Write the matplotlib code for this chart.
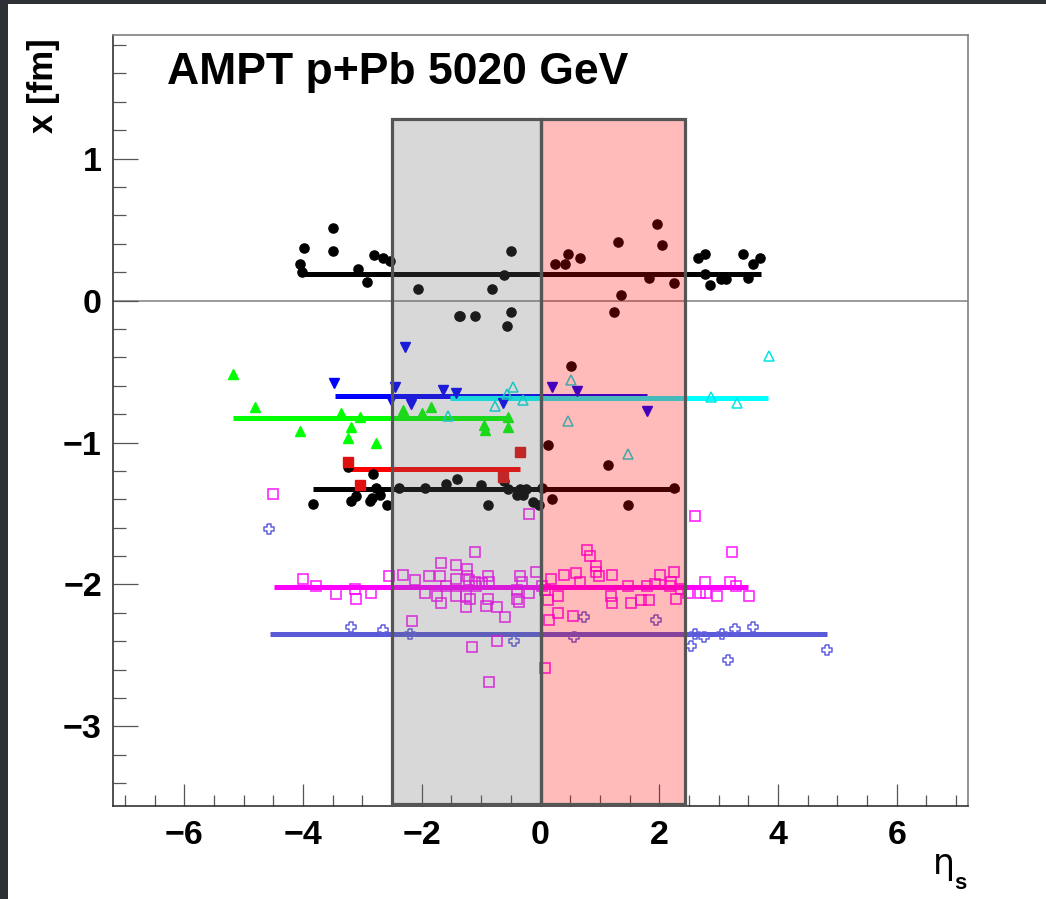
import matplotlib
matplotlib.use("Agg")
import matplotlib.pyplot as plt
from matplotlib.patches import Rectangle
from matplotlib.path import Path

# ---------------- data ----------------
# upper black circles
blk1_x = [-4.05, -4.01, -3.98, -3.49, -3.49, -3.07, -2.92, -2.80, -2.66, -2.53,
          -2.07, -1.38, -1.35, -1.11, -0.81, -0.62, -0.57, -0.49, -0.49,
          0.25, 0.42, 0.47, 0.66, 1.23, 1.30, 1.35, 1.82, 1.96, 2.04, 2.24,
          2.65, 2.77, 2.77, 2.85, 3.04, 3.12, 3.41, 3.49, 3.58, 3.69]
blk1_y = [0.26, 0.20, 0.37, 0.51, 0.35, 0.22, 0.13, 0.32, 0.30, 0.28,
          0.08, -0.11, -0.11, -0.11, 0.08, 0.18, -0.18, 0.35, -0.08,
          0.26, 0.26, 0.33, 0.30, -0.08, 0.41, 0.04, 0.16, 0.54, 0.39, 0.12,
          0.30, 0.33, 0.19, 0.11, 0.15, 0.15, 0.33, 0.16, 0.26, 0.30]
blk1_mean = (0.19, -4.05, 3.71)

# lower black circles
blk2_x = [-3.84, -3.25, -3.20, -3.10, -2.87, -2.83, -2.82, -2.77, -2.70, -2.58,
          -2.38, -1.94, -1.60, -1.40, -1.01, -0.89, -0.62, -0.54, -0.39, -0.34,
          -0.29, -0.25, -0.12, -0.03, 0.02, 0.13, 0.20, 0.51, 1.13, 1.47, 2.24]
blk2_y = [-1.43, -1.17, -1.41, -1.38, -1.41, -1.39, -1.22, -1.32, -1.37, -1.44,
          -1.32, -1.32, -1.29, -1.26, -1.30, -1.44, -1.27, -1.33, -1.37, -1.33,
          -1.37, -1.33, -1.42, -1.44, -1.32, -1.02, -1.40, -0.46, -1.16, -1.44, -1.32]
blk2_mean = (-1.33, -3.84, 2.33)

# blue down triangles
blue_x = [-3.47, -2.51, -2.45, -2.28, -2.18, -1.65, -1.43, -0.64, 0.19, 0.61, 1.80]
blue_y = [-0.58, -0.70, -0.61, -0.33, -0.73, -0.63, -0.65, -0.72, -0.61, -0.64, -0.78]
blue_mean = (-0.67, -3.46, 1.80)

# cyan open up triangles
cyan_x = [-1.55, -0.76, -0.56, -0.47, -0.29, 0.46, 0.52, 1.47, 2.87, 3.31, 3.84]
cyan_y = [-0.81, -0.74, -0.66, -0.61, -0.70, -0.85, -0.56, -1.08, -0.68, -0.72, -0.39]
cyan_mean = (-0.69, -1.53, 3.83)

# green filled up triangles
green_x = [-5.18, -4.81, -4.05, -3.36, -3.24, -3.19, -3.04, -2.77, -2.31, -1.99,
           -1.85, -0.96, -0.94, -0.54, -0.54]
green_y = [-0.52, -0.75, -0.92, -0.79, -0.97, -0.89, -0.82, -1.00, -0.77, -0.79,
           -0.75, -0.88, -0.91, -0.82, -0.89]
green_mean = (-0.83, -5.18, -0.51)

# red filled squares
red_x = [-3.24, -3.04, -0.64, -0.35]
red_y = [-1.14, -1.30, -1.24, -1.07]
red_mean = (-1.19, -3.29, -0.35)

# magenta open squares
mag_x = [-4.50, -4.00, -3.78, -3.44, -3.12, -3.10, -2.85, -2.56, -2.31, -2.12,
         -1.95, -1.87, -1.74, -1.69, -1.67, -1.67, -1.59, -1.43, -1.42, -1.43,
         -1.26, -1.23, -1.23, -1.21, -1.18, -1.26, -1.11, -1.10, -1.08, -0.98,
         -0.88, -0.86, -0.88, -0.91, -0.73, -0.59, -0.40, -0.39, -0.37, -0.34,
         -0.32, -0.20, -0.08, 0.03, 0.08, 0.12, 0.15, 0.17, 0.29, 0.30,
         0.39, 0.54, 0.59, 0.67, 0.78, 0.83, 0.93, 0.93, 0.98, 1.21,
         1.18, 1.21, 1.48, 1.53, 1.69, 1.82, 1.80, 1.92, 2.02, 2.18,
         2.19, 2.24, 2.28, 2.36, 2.48, 2.60, 2.68, 2.77, 2.78, 2.97,
         3.19, 3.22, 3.29, 3.51, -0.20, -2.16, -1.15, -0.73, 0.08, -0.86]
mag_y = [-1.36, -1.96, -2.01, -2.07, -2.03, -2.10, -2.06, -1.94, -1.93, -1.97,
         -2.06, -1.94, -2.08, -1.94, -1.85, -2.13, -2.01, -1.96, -1.86, -2.08,
         -2.08, -1.89, -1.94, -1.97, -2.10, -2.16, -1.77, -1.98, -2.01, -1.99,
         -1.94, -1.98, -2.10, -2.15, -2.16, -2.23, -2.04, -2.10, -2.12, -1.94,
         -1.98, -2.06, -1.91, -2.01, -2.04, -2.11, -2.25, -1.96, -2.20, -2.08,
         -1.93, -2.22, -1.92, -1.98, -1.76, -1.80, -1.87, -1.91, -1.94, -1.93,
         -2.08, -2.13, -2.01, -2.13, -2.11, -2.11, -2.01, -2.00, -1.93, -2.01,
         -1.98, -1.91, -2.10, -2.03, -2.06, -1.52, -2.06, -1.98, -2.06, -2.08,
         -1.98, -1.77, -2.01, -2.08, -1.50, -2.26, -2.44, -2.40, -2.59, -2.69]
mag_mean = (-2.02, -4.49, 3.49)

# slate-blue open crosses
slate_x = [-4.57, -3.19, -2.65, -2.19, -0.44, 0.56, 0.73, 1.94, 2.53, 2.61,
           2.75, 3.05, 3.15, 3.27, 3.58, 4.82]
slate_y = [-1.61, -2.30, -2.32, -2.35, -2.40, -2.37, -2.23, -2.25, -2.43, -2.35,
           -2.37, -2.35, -2.53, -2.31, -2.30, -2.46]
slate_mean = (-2.35, -4.55, 4.82)

# shaded eta windows: (left, right)
grey_box = (-2.5, 0.0)
red_box = (0.0, 2.44)
box_top = 1.28

title = "AMPT p+Pb 5020 GeV"
xlabel_main = "η"
xlabel_sub = "s"
ylabel = "x [fm]"

# ---------------- plotting ----------------
W, H = 1046, 899
fig = plt.figure(figsize=(W / 100, H / 100), dpi=100)
fig.patch.set_facecolor("white")
ax = fig.add_axes([113 / W, (H - 806) / H, 855 / W, 771 / H])
ax.set_xlim(-7.2, 7.2)
ax.set_ylim(-3.56, 1.87)

font = "Liberation Sans"

ax.axhline(0, color="#8a8a8a", lw=1.2, zorder=1)

cross = Path([(-0.33, 1), (0.33, 1), (0.33, 0.33), (1, 0.33), (1, -0.33),
              (0.33, -0.33), (0.33, -1), (-0.33, -1), (-0.33, -0.33), (-1, -0.33),
              (-1, 0.33), (-0.33, 0.33), (-0.33, 1)])

ms = 6.6
def pts(x, y, **kw):
    ax.plot(x, y, linestyle="none", zorder=3, **kw)

def mean_line(m, color):
    y, x0, x1 = m
    ax.hlines(y, x0, x1, colors=color, lw=3.6, zorder=2)

# lines
mean_line(blk1_mean, "black")
mean_line(blue_mean, "#0000ff")
mean_line(cyan_mean, "#00ffff")
mean_line(green_mean, "#00ff00")
mean_line(red_mean, "#ff0000")
mean_line(blk2_mean, "black")
mean_line(mag_mean, "#ff00ff")
mean_line(slate_mean, "#5b5bd8")

# markers
pts(blk1_x, blk1_y, marker="o", ms=ms, color="black")
pts(blk2_x, blk2_y, marker="o", ms=ms, color="black")
pts(blue_x, blue_y, marker="v", ms=ms, color="#0000ff")
pts(cyan_x, cyan_y, marker="^", ms=ms + 0.8, mfc="none", mec="#00e5e5", mew=1.1)
pts(green_x, green_y, marker="^", ms=ms + 0.6, color="#00ff00")
pts(red_x, red_y, marker="s", ms=ms, color="#e01010")
pts(mag_x, mag_y, marker="s", ms=ms + 0.8, mfc="none", mec="#ff00ff", mew=1.2, alpha=0.85)
pts(slate_x, slate_y, marker=cross, ms=ms, mfc="none", mec="#6060e0", mew=1.1)

# boxes
ymin = ax.get_ylim()[0]
ax.add_patch(Rectangle((grey_box[0], ymin), grey_box[1] - grey_box[0], box_top - ymin,
                       facecolor=(0.42, 0.42, 0.42), alpha=0.26, edgecolor="none", zorder=4))
ax.add_patch(Rectangle((red_box[0], ymin), red_box[1] - red_box[0], box_top - ymin,
                       facecolor=(1.0, 0.0, 0.0), alpha=0.27, edgecolor="none", zorder=4))
for b in (grey_box, red_box):
    ax.add_patch(Rectangle((b[0], ymin + 0.012), b[1] - b[0], box_top - ymin - 0.012,
                           facecolor="none", edgecolor="#555555", lw=2.3, zorder=5))

# axes styling
for side in ("top", "right"):
    ax.spines[side].set_color("#808080")
    ax.spines[side].set_linewidth(1.2)
for side in ("left", "bottom"):
    ax.spines[side].set_color("#333333")
    ax.spines[side].set_linewidth(1.2)

ax.set_xticks([-6, -4, -2, 0, 2, 4, 6])
ax.set_xticks([v * 0.5 for v in range(-14, 15)], minor=True)
ax.set_yticks([-3, -2, -1, 0, 1])
ax.set_yticks([v * 0.2 for v in range(-17, 10)], minor=True)
ax.tick_params(axis="both", which="both", direction="in", top=False, right=False,
               color="#555555", width=0.9)
ax.tick_params(axis="x", which="major", length=16, pad=10)
ax.tick_params(axis="x", which="minor", length=8)
ax.tick_params(axis="y", which="major", length=18, pad=8)
ax.tick_params(axis="y", which="minor", length=9.5)
for lab in ax.get_xticklabels() + ax.get_yticklabels():
    lab.set_fontfamily(font)
    lab.set_fontweight("bold")
    lab.set_fontsize(24.5)

fig.text(167 / W, 1 - 84 / H, title, fontfamily=font, fontweight="bold",
         fontsize=32, ha="left", va="baseline")
fig.text(60 / W, 1 - 38 / H, ylabel, fontfamily=font, fontweight="bold",
         fontsize=25, rotation=90, ha="right", va="top")
fig.text(933 / W, 1 - 874 / H, xlabel_main, fontfamily="DejaVu Sans",
         fontsize=25, ha="left", va="baseline")
fig.text(954 / W, 1 - 889 / H, xlabel_sub, fontfamily=font, fontweight="bold",
         fontsize=16, ha="left", va="baseline")

# dark screen border
fig.add_artist(Rectangle((0, 1 - 4 / H), 1, 4 / H, transform=fig.transFigure,
                         facecolor="#2d3035", edgecolor="none"))
fig.add_artist(Rectangle((0, 0), 8 / W, 1, transform=fig.transFigure,
                         facecolor="#2d3035", edgecolor="none"))

fig.savefig("out.png", dpi=100)
